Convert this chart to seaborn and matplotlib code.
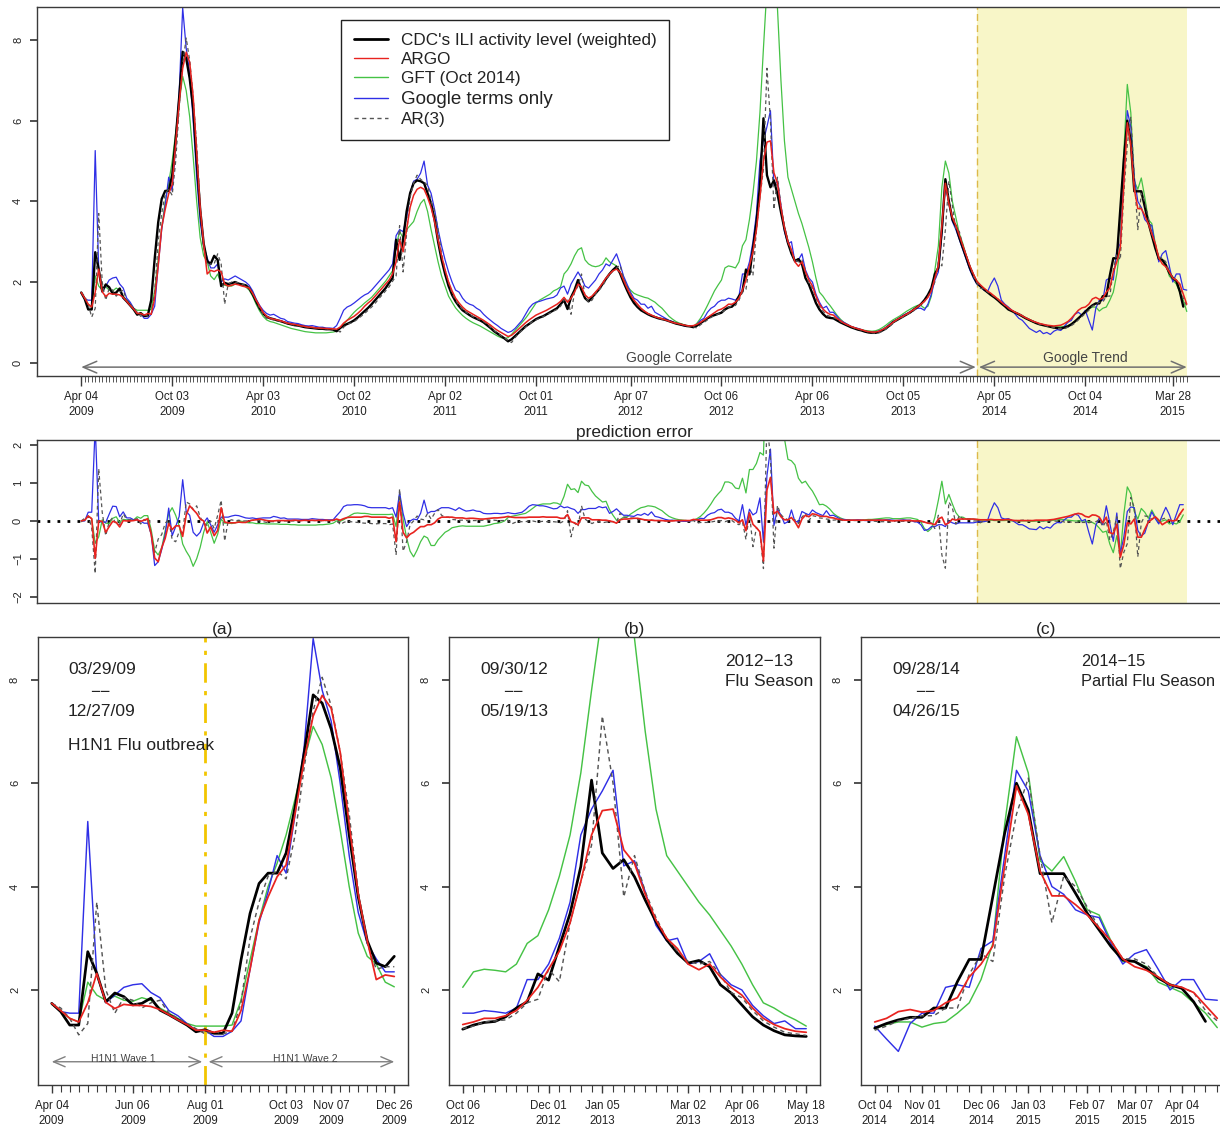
import numpy as np
import pandas as pd
import matplotlib
matplotlib.use("Agg")
import matplotlib.pyplot as plt
import seaborn as sns
from matplotlib.lines import Line2D

# ---------------- data (weekly, starting week ending 2009-04-04) ----------------
start_date = "2009-04-04"

cdc = [1.74,1.58,1.32,1.32,2.74,2.32,1.77,1.94,1.87,1.71,
1.74,1.84,1.61,1.52,1.42,1.32,1.19,1.23,1.16,1.16,
1.55,2.58,3.48,4.06,4.26,4.26,4.65,5.55,6.58,7.71,
7.55,7.05,6.30,5.00,3.80,2.95,2.52,2.45,2.65,2.55,
1.90,1.98,1.95,1.97,2.00,1.96,1.94,1.92,1.85,1.70,
1.52,1.35,1.22,1.14,1.10,1.08,1.05,1.03,1.00,0.97,
0.95,0.93,0.92,0.90,0.88,0.87,0.86,0.85,0.84,0.84,
0.83,0.83,0.82,0.78,0.86,0.92,0.96,1.00,1.05,1.12,
1.20,1.28,1.36,1.45,1.55,1.65,1.75,1.85,1.98,2.10,
3.05,2.55,3.05,3.75,4.20,4.45,4.52,4.50,4.45,4.20,
3.95,3.55,3.00,2.55,2.20,1.90,1.68,1.52,1.40,1.30,
1.24,1.18,1.13,1.09,1.05,1.00,0.93,0.86,0.78,0.72,
0.66,0.60,0.53,0.58,0.66,0.74,0.82,0.90,0.96,1.02,
1.08,1.12,1.15,1.20,1.25,1.30,1.35,1.45,1.55,1.33,
1.62,1.80,2.05,1.80,1.60,1.52,1.62,1.72,1.82,1.95,
2.08,2.20,2.30,2.38,2.22,2.00,1.80,1.62,1.48,1.38,
1.30,1.25,1.20,1.16,1.13,1.10,1.08,1.06,1.03,1.00,
0.97,0.95,0.93,0.91,0.90,0.88,0.92,0.98,1.04,1.10,
1.15,1.18,1.21,1.24,1.32,1.37,1.39,1.48,1.65,1.77,
2.31,2.19,2.84,3.48,4.39,6.06,4.65,4.35,4.52,4.19,
3.74,3.32,2.97,2.71,2.52,2.57,2.45,2.10,1.94,1.71,
1.48,1.32,1.21,1.13,1.11,1.10,1.05,1.00,0.96,0.92,
0.88,0.85,0.82,0.80,0.77,0.75,0.74,0.74,0.76,0.80,
0.85,0.92,1.00,1.05,1.10,1.15,1.20,1.25,1.32,1.38,
1.45,1.55,1.68,1.85,2.20,2.35,3.30,4.55,4.00,3.55,
3.38,3.10,2.85,2.60,2.35,2.15,1.98,1.90,1.82,1.75,
1.68,1.62,1.55,1.47,1.40,1.32,1.28,1.24,1.20,1.15,
1.10,1.06,1.02,0.98,0.95,0.93,0.91,0.89,0.87,0.86,
0.85,0.87,0.90,0.95,1.02,1.10,1.18,1.26,1.35,1.42,
1.47,1.47,1.65,1.65,2.16,2.59,2.59,3.81,5.03,6.00,
5.48,4.25,4.25,4.25,3.87,3.48,3.16,2.84,2.58,2.55,
2.42,2.23,2.10,2.03,1.77,1.39,np.nan]

argo = [1.74,1.60,1.45,1.38,1.75,2.32,1.76,1.64,1.72,1.70,
1.70,1.68,1.62,1.52,1.42,1.33,1.22,1.22,1.18,1.22,
1.20,1.60,2.40,3.35,3.80,4.19,4.42,5.42,6.45,7.30,
7.70,7.45,6.60,5.20,3.85,2.95,2.20,2.29,2.26,2.30,
2.25,1.95,1.90,1.92,1.95,1.93,1.90,1.88,1.85,1.72,
1.55,1.40,1.25,1.15,1.10,1.08,1.06,1.04,1.01,0.98,
0.96,0.95,0.93,0.91,0.90,0.88,0.88,0.86,0.86,0.85,
0.85,0.84,0.84,0.83,0.88,0.98,1.05,1.10,1.15,1.22,
1.30,1.40,1.48,1.55,1.65,1.75,1.85,1.95,2.05,2.20,
2.50,3.05,2.75,3.30,3.85,4.15,4.30,4.35,4.30,4.10,
3.85,3.50,3.05,2.65,2.30,2.00,1.78,1.60,1.48,1.38,
1.30,1.25,1.20,1.15,1.10,1.05,0.99,0.93,0.86,0.80,
0.75,0.70,0.65,0.68,0.75,0.83,0.91,0.99,1.06,1.12,
1.18,1.22,1.26,1.30,1.35,1.40,1.45,1.52,1.62,1.50,
1.60,1.75,1.95,1.88,1.68,1.60,1.65,1.75,1.85,1.97,
2.10,2.20,2.28,2.32,2.25,2.05,1.85,1.68,1.55,1.45,
1.35,1.28,1.22,1.18,1.14,1.11,1.09,1.06,1.03,1.00,
0.98,0.96,0.94,0.92,0.91,0.92,0.95,1.00,1.06,1.12,
1.18,1.24,1.30,1.33,1.38,1.45,1.45,1.50,1.60,1.80,
2.05,2.40,2.75,3.30,4.10,5.00,5.47,5.50,4.71,4.45,
3.85,3.35,3.00,2.80,2.50,2.39,2.50,2.25,2.05,1.90,
1.65,1.45,1.33,1.25,1.20,1.18,1.10,1.04,0.98,0.94,
0.90,0.87,0.84,0.82,0.79,0.77,0.76,0.76,0.78,0.82,
0.87,0.93,1.00,1.06,1.11,1.16,1.21,1.26,1.32,1.38,
1.45,1.52,1.62,1.78,2.10,2.40,3.40,4.45,3.95,3.60,
3.40,3.15,2.90,2.65,2.40,2.20,2.02,1.93,1.85,1.78,
1.72,1.65,1.58,1.50,1.43,1.36,1.30,1.25,1.21,1.16,
1.11,1.07,1.03,1.00,0.97,0.95,0.93,0.92,0.91,0.92,
0.93,0.97,1.02,1.10,1.20,1.30,1.36,1.38,1.45,1.58,
1.62,1.57,1.60,1.75,1.85,2.25,2.50,2.85,4.40,5.95,
5.40,4.30,3.82,3.82,3.65,3.45,3.20,2.95,2.60,2.45,
2.38,2.25,2.10,2.05,1.95,1.70,1.45]

gft = [1.72,1.60,1.45,1.38,2.15,1.90,1.80,1.88,1.80,1.78,
1.85,1.80,1.65,1.55,1.45,1.35,1.30,1.30,1.30,1.30,
1.32,1.80,2.58,3.35,4.00,4.45,5.00,5.70,6.45,7.10,
6.75,6.10,5.10,4.00,3.10,2.65,2.50,2.15,2.06,2.20,
1.95,1.92,1.90,1.90,1.95,1.95,1.93,1.88,1.80,1.65,
1.45,1.28,1.15,1.06,1.02,1.00,0.97,0.94,0.91,0.88,
0.85,0.83,0.81,0.79,0.77,0.76,0.75,0.74,0.74,0.74,
0.74,0.75,0.76,0.78,0.85,0.95,1.05,1.15,1.25,1.33,
1.40,1.48,1.55,1.62,1.72,1.82,1.92,2.02,2.15,2.28,
2.90,3.25,3.10,3.30,3.40,3.50,3.75,3.95,4.05,3.75,
3.30,2.90,2.50,2.15,1.90,1.65,1.50,1.36,1.26,1.17,
1.10,1.04,0.99,0.95,0.91,0.86,0.81,0.76,0.71,0.66,
0.62,0.60,0.62,0.70,0.80,0.90,1.00,1.10,1.22,1.35,
1.48,1.55,1.60,1.65,1.70,1.78,1.82,1.88,2.20,2.30,
2.45,2.65,2.80,2.85,2.55,2.45,2.40,2.38,2.40,2.45,
2.60,2.50,2.45,2.40,2.25,2.10,1.90,1.80,1.72,1.68,
1.65,1.62,1.60,1.55,1.50,1.42,1.35,1.25,1.15,1.08,
1.02,0.98,0.95,0.92,0.90,0.90,0.98,1.10,1.25,1.42,
1.60,1.78,1.92,2.05,2.35,2.40,2.38,2.35,2.50,2.90,
3.05,3.55,4.20,5.00,6.20,7.80,9.30,10.40,10.10,8.80,
7.00,5.50,4.60,4.30,4.00,3.70,3.45,3.15,2.85,2.50,
2.10,1.75,1.65,1.52,1.42,1.30,1.18,1.08,1.00,0.95,
0.90,0.87,0.84,0.82,0.80,0.79,0.78,0.79,0.82,0.87,
0.93,1.00,1.06,1.11,1.16,1.22,1.28,1.33,1.38,1.42,
1.42,1.35,1.40,1.65,2.30,2.90,4.35,5.00,4.70,4.00,
3.60,3.20,2.95,2.65,2.40,2.20,2.02,1.92,1.84,1.77,
1.70,1.63,1.56,1.48,1.41,1.34,1.28,1.24,1.20,1.15,
1.10,1.05,1.01,0.98,0.95,0.93,0.91,0.90,0.89,0.89,
0.89,0.90,0.92,0.96,1.02,1.10,1.18,1.25,1.33,1.38,
1.38,1.28,1.35,1.38,1.55,1.75,2.20,2.90,5.20,6.90,
6.20,4.50,4.30,4.58,4.10,3.55,3.45,2.95,2.55,2.55,
2.45,2.15,2.05,1.95,1.75,1.55,1.27]

google_terms = [1.74,1.58,1.55,1.55,5.26,2.30,1.75,1.90,2.05,2.10,
2.12,1.95,1.85,1.60,1.50,1.35,1.22,1.22,1.10,1.10,
1.20,1.40,2.40,3.30,3.90,4.60,4.26,5.40,6.70,8.80,
7.80,7.20,6.00,4.60,3.50,2.90,2.60,2.35,2.35,2.45,
2.00,2.08,2.05,2.10,2.15,2.10,2.05,2.00,1.92,1.78,
1.58,1.42,1.30,1.22,1.18,1.20,1.15,1.10,1.08,1.02,
1.00,0.98,0.97,0.94,0.92,0.91,0.92,0.90,0.88,0.88,
0.86,0.86,0.85,0.92,1.10,1.30,1.38,1.42,1.48,1.55,
1.62,1.68,1.72,1.80,1.90,2.00,2.10,2.20,2.30,2.45,
3.15,3.30,3.25,3.60,4.20,4.50,4.55,4.70,5.00,4.40,
4.20,3.80,3.30,2.90,2.55,2.25,2.00,1.80,1.75,1.60,
1.50,1.45,1.42,1.35,1.30,1.20,1.12,1.05,0.98,0.92,
0.85,0.80,0.75,0.78,0.85,0.95,1.05,1.20,1.35,1.45,
1.50,1.52,1.55,1.58,1.60,1.62,1.68,1.85,1.90,1.70,
1.95,2.10,2.25,2.10,1.90,1.85,1.95,2.05,2.20,2.30,
2.45,2.40,2.55,2.70,2.45,2.15,1.95,1.75,1.60,1.55,
1.45,1.45,1.35,1.40,1.25,1.20,1.15,1.10,1.05,1.02,
0.98,0.95,0.92,0.90,0.90,0.90,0.95,1.05,1.10,1.25,
1.35,1.40,1.50,1.55,1.55,1.60,1.58,1.55,1.65,2.20,
2.20,2.50,3.00,3.70,5.00,5.50,5.85,6.25,4.40,4.50,
3.90,3.25,2.95,3.00,2.50,2.55,2.70,2.30,2.10,2.00,
1.70,1.50,1.35,1.40,1.25,1.25,1.15,1.05,1.00,0.95,
0.90,0.87,0.85,0.82,0.78,0.76,0.75,0.76,0.79,0.82,
0.88,0.95,1.02,1.06,1.12,1.18,1.22,1.27,1.30,1.35,
1.35,1.30,1.45,1.70,2.05,2.25,3.20,4.40,4.00,3.50,
3.30,3.05,2.80,2.55,2.30,2.10,1.95,1.88,1.80,1.75,
1.95,2.10,1.90,1.55,1.45,1.38,1.30,1.20,1.10,1.05,
0.95,0.85,0.80,0.75,0.80,0.72,0.75,0.70,0.78,0.82,
0.80,0.90,1.00,1.05,1.20,1.25,1.18,1.30,1.05,0.81,
1.35,1.55,1.55,2.05,2.10,2.05,2.80,2.95,4.60,6.25,
5.85,4.60,4.00,3.85,3.55,3.45,3.40,2.90,2.50,2.70,
2.78,2.40,2.00,2.20,2.20,1.82,1.80]

ar3 = [1.74,1.65,1.45,1.13,1.35,3.70,2.00,1.55,1.85,1.80,
1.65,1.75,1.80,1.55,1.45,1.35,1.25,1.15,1.20,1.15,
1.20,1.75,3.00,3.70,4.20,4.30,4.15,5.00,6.30,7.40,
8.05,7.50,6.60,5.40,3.90,2.90,2.40,2.45,2.45,2.70,
2.45,1.45,1.95,2.00,2.00,1.98,1.94,1.92,1.86,1.72,
1.55,1.35,1.20,1.10,1.08,1.06,1.05,1.02,1.00,0.97,
0.95,0.93,0.92,0.91,0.89,0.88,0.87,0.86,0.85,0.84,
0.84,0.83,0.83,0.82,0.76,0.88,0.95,0.98,1.02,1.08,
1.15,1.22,1.30,1.38,1.47,1.58,1.68,1.78,1.88,2.02,
2.15,3.40,2.25,3.20,4.10,4.45,4.65,4.55,4.48,4.40,
4.00,3.75,3.30,2.70,2.30,2.00,1.72,1.55,1.42,1.32,
1.25,1.20,1.14,1.10,1.06,1.02,0.96,0.88,0.80,0.73,
0.67,0.61,0.55,0.50,0.62,0.72,0.80,0.88,0.96,1.02,
1.06,1.10,1.14,1.18,1.23,1.28,1.32,1.40,1.55,1.60,
1.20,1.75,1.90,2.20,1.65,1.50,1.55,1.70,1.80,1.90,
2.05,2.18,2.28,2.35,2.42,2.10,1.90,1.70,1.55,1.42,
1.34,1.27,1.22,1.18,1.14,1.11,1.08,1.06,1.04,1.01,
0.98,0.96,0.94,0.92,0.90,0.89,0.86,0.94,1.00,1.06,
1.12,1.17,1.20,1.25,1.30,1.38,1.40,1.42,1.55,1.75,
1.82,2.40,2.16,3.30,4.10,4.80,7.30,6.00,3.80,4.60,
3.90,3.40,3.00,2.75,2.55,2.50,2.55,2.30,1.95,1.85,
1.60,1.40,1.28,1.18,1.15,1.12,1.08,1.02,0.97,0.94,
0.90,0.86,0.83,0.81,0.79,0.76,0.74,0.73,0.74,0.78,
0.83,0.89,0.97,1.06,1.09,1.14,1.19,1.24,1.29,1.38,
1.43,1.52,1.64,1.80,2.00,2.50,2.40,3.30,4.50,3.90,
3.30,3.25,2.90,2.65,2.40,2.15,1.98,1.85,1.82,1.76,
1.70,1.64,1.58,1.50,1.42,1.35,1.28,1.25,1.21,1.17,
1.12,1.07,1.03,0.99,0.95,0.93,0.91,0.89,0.87,0.85,
0.85,0.84,0.88,0.92,0.98,1.06,1.14,1.22,1.30,1.40,
1.45,1.50,1.50,1.65,1.65,2.30,2.70,2.55,4.20,5.40,
6.10,4.60,3.30,4.20,4.00,3.60,3.20,2.95,2.60,2.60,
2.50,2.25,2.10,2.05,1.95,1.60,1.40]

series_labels = ["CDC's ILI activity level (weighted)", "ARGO", "GFT (Oct 2014)",
                 "Google terms only", "AR(3)"]

top_tick_dates = ["2009-04-04", "2009-10-03", "2010-04-03", "2010-10-02", "2011-04-02",
                  "2011-10-01", "2012-04-07", "2012-10-06", "2013-04-06", "2013-10-05",
                  "2014-04-05", "2014-10-04", "2015-03-28"]
a_tick_dates = ["2009-04-04", "2009-06-06", "2009-08-01", "2009-10-03", "2009-11-07", "2009-12-26"]
b_tick_dates = ["2012-10-06", "2012-12-01", "2013-01-05", "2013-03-02", "2013-04-06", "2013-05-18"]
c_tick_dates = ["2014-10-04", "2014-11-01", "2014-12-06", "2015-01-03", "2015-02-07",
                "2015-03-07", "2015-04-04"]
a_range = ("2009-04-04", "2009-12-26")
b_range = ("2012-10-06", "2013-05-18")
c_range = ("2014-10-04", "2015-04-25")
trend_start = "2014-03-01"
wave_split = "2009-08-01"

for s in (cdc, argo, gft, google_terms, ar3):
    assert len(s) == len(cdc), len(s)

# ---------------- frame ----------------
t0 = pd.Timestamp(start_date)
def wk(d):
    return (pd.Timestamp(d) - t0).days / 7.0

df = pd.DataFrame({"week": np.arange(len(cdc)), "CDC": cdc, "ARGO": argo, "GFT": gft,
                   "GT": google_terms, "AR": ar3})
for k in ["ARGO", "GFT", "GT", "AR"]:
    df["err_" + k] = df[k] - df["CDC"]

# ---------------- style ----------------
sns.set_theme(style="ticks")
plt.rcParams["font.family"] = ["Liberation Sans", "DejaVu Sans"]
plt.rcParams.update({
    "axes.edgecolor": "#3a3a3a", "axes.linewidth": 1.0,
    "xtick.color": "#3a3a3a", "ytick.color": "#3a3a3a",
    "xtick.labelcolor": "#222222", "ytick.labelcolor": "#222222",
    "xtick.labelsize": 8.3, "ytick.labelsize": 8,
})

COL = {"CDC": "black", "ARGO": "#e8231f", "GFT": "#45c245", "GT": "#2f2fe6", "AR": "#555555"}
W, H = 1220, 1126
fig = plt.figure(figsize=(W / 100, H / 100), dpi=100)

def px_axes(l, t, r, b):
    return fig.add_axes([l / W, 1 - b / H, (r - l) / W, (b - t) / H])

ax_top = px_axes(37, 7, 1231, 376)
ax_err = px_axes(37, 440, 1231, 603)
ax_a = px_axes(38, 637, 408, 1085)
ax_b = px_axes(449, 637, 820, 1085)
ax_c = px_axes(861, 637, 1231, 1085)

def line(ax, y, key, lw, data=df):
    kw = dict(data=data, x="week", y=y, ax=ax, color=COL[key], linewidth=lw,
              estimator=None, sort=False, legend=False)
    if key == "AR":
        kw["linestyle"] = (0, (3, 2.5))
    sns.lineplot(**kw)

def draw_levels(ax, scale, data=df):
    line(ax, "GFT", "GFT", 0.9 * scale, data)
    line(ax, "GT", "GT", 0.9 * scale, data)
    line(ax, "CDC", "CDC", 1.7 * scale, data)
    line(ax, "AR", "AR", 0.9 * scale, data)
    line(ax, "ARGO", "ARGO", 1.1 * scale, data)

def fmt(d):
    return pd.Timestamp(d).strftime("%b %d\n%Y")

def xlabels(ax, dates):
    ax.set_xticks([wk(d) for d in dates])
    ax.set_xticklabels([fmt(d) for d in dates], linespacing=1.25)

def yrot(ax, pad):
    ax.tick_params(axis="y", labelrotation=90, length=5, pad=pad)
    for t in ax.get_yticklabels():
        t.set_verticalalignment("center")

shade_col = "#f8f6c8"
gold = "#dcb94a"
n = len(cdc)

# ---------------- top panel ----------------
ax_top.axvspan(wk(trend_start), n - 1, color=shade_col, lw=0, zorder=0)
ax_top.axvline(wk(trend_start), color=gold, lw=1.0, ls=(0, (5, 3)), zorder=1)
draw_levels(ax_top, 1.0)
ax_top.set_xlim(-12.64, n - 1 + 12.64)
ax_top.set_ylim(-0.33, 8.82)
ax_top.set_yticks([0, 2, 4, 6, 8])
xlabels(ax_top, top_tick_dates)
ax_top.set_xticks(np.arange(0, n), minor=True)
ax_top.tick_params(axis="x", which="major", length=7, width=1.0, pad=4)
ax_top.tick_params(axis="x", which="minor", length=4, width=0.6)
yrot(ax_top, 5)
ax_top.set_xlabel("")
ax_top.set_ylabel("")
arrow_kw = dict(arrowstyle="<->,head_length=0.7,head_width=0.3", color="#707070", lw=1.1,
                shrinkA=0, shrinkB=0, mutation_scale=14)
ax_top.annotate("", xy=(0, -0.11), xytext=(wk(trend_start) - 0.3, -0.11), arrowprops=arrow_kw)
ax_top.annotate("", xy=(wk(trend_start) + 0.6, -0.11), xytext=(n - 1, -0.11), arrowprops=arrow_kw)
ax_top.text(171, 0.12, "Google Correlate", ha="center", va="center", fontsize=10, color="#444444")
ax_top.text(287, 0.12, "Google Trend", ha="center", va="center", fontsize=10, color="#444444")

handles = [Line2D([], [], color=COL["CDC"], lw=2.0),
           Line2D([], [], color=COL["ARGO"], lw=1.0),
           Line2D([], [], color=COL["GFT"], lw=1.0),
           Line2D([], [], color=COL["GT"], lw=1.0),
           Line2D([], [], color=COL["AR"], lw=1.0, ls=(0, (3, 2.5)))]
leg = ax_top.legend(handles, series_labels, loc="upper left",
                    bbox_to_anchor=(341 / W, 1 - 20 / H), bbox_transform=fig.transFigure,
                    frameon=True, fancybox=False, edgecolor="#222222", fontsize=12.3,
                    handlelength=2.0, handletextpad=0.75, borderpad=0.75, labelspacing=0.25,
                    borderaxespad=0)
leg.get_frame().set_linewidth(1.0)
leg.get_frame().set_alpha(1)
for t in leg.get_texts():
    t.set_color("#222222")
leg.get_texts()[3].set_fontsize(13.5)

# ---------------- error panel ----------------
ax_err.axvspan(wk(trend_start), n - 1, color=shade_col, lw=0, zorder=0)
ax_err.axvline(wk(trend_start), color=gold, lw=1.0, ls=(0, (5, 3)), zorder=1)
ax_err.axhline(0, color="black", lw=2.0, ls=(0, (1, 2.6)), zorder=1)
line(ax_err, "err_GFT", "GFT", 0.9)
line(ax_err, "err_GT", "GT", 0.9)
line(ax_err, "err_AR", "AR", 0.9)
line(ax_err, "err_ARGO", "ARGO", 1.2)
ax_err.set_xlim(-12.64, n - 1 + 12.64)
ax_err.set_ylim(-2.17, 2.14)
ax_err.set_yticks([-2, -1, 0, 1, 2])
ax_err.set_xticks([])
yrot(ax_err, 5)
ax_err.set_xlabel("")
ax_err.set_ylabel("")
ax_err.set_title("prediction error", fontsize=12.5, pad=1, color="#222222")

# ---------------- zoom panels ----------------
def zoom_panel(ax, rng, tick_dates, title):
    w0, w1 = wk(rng[0]), wk(rng[1])
    sub = df[(df.week >= w0) & (df.week <= w1)]
    draw_levels(ax, 1.15, sub)
    pad = 0.04 * (w1 - w0)
    ax.set_xlim(w0 - pad, w1 + pad)
    ax.set_ylim(0.16, 8.83)
    ax.set_yticks([2, 4, 6, 8])
    xlabels(ax, tick_dates)
    ax.set_xticks(np.arange(w0, w1 + 1), minor=True)
    ax.tick_params(axis="x", which="major", length=6, width=1.0, pad=5)
    ax.tick_params(axis="x", which="minor", length=5, width=0.8)
    yrot(ax, 8)
    ax.set_xlabel("")
    ax.set_ylabel("")
    ax.set_title(title, fontsize=12.5, pad=0, color="#222222")

zoom_panel(ax_a, a_range, a_tick_dates, "(a)")
zoom_panel(ax_b, b_range, b_tick_dates, "(b)")
zoom_panel(ax_c, c_range, c_tick_dates, "(c)")

# panel (a) extras
ax_a.axvline(wk(wave_split), color="#f2c500", lw=2.0, ls=(0, (7, 3, 1.5, 3)), zorder=1)
wave_kw = dict(arrowstyle="<->,head_length=0.7,head_width=0.3", color="#808080", lw=1.0,
               shrinkA=0, shrinkB=0, mutation_scale=12)
ax_a.annotate("", xy=(0, 0.61), xytext=(wk(wave_split) - 0.3, 0.61), arrowprops=wave_kw)
ax_a.annotate("", xy=(wk(wave_split) + 0.4, 0.61), xytext=(wk(a_range[1]), 0.61), arrowprops=wave_kw)
ax_a.text(7.9, 0.66, "H1N1 Wave 1", ha="center", va="center", fontsize=7.5, color="#444444")
ax_a.text(28.1, 0.66, "H1N1 Wave 2", ha="center", va="center", fontsize=7.5, color="#444444")

def annot(ax, left_px, ax_left, ax_w, dash_px, lines, fs=12.5):
    fx = (left_px - ax_left) / ax_w
    dx = (dash_px - ax_left) / ax_w
    for txt, ypx, centered in lines:
        fy = (1085 - ypx) / 448
        if centered:
            ax.text(dx, fy, txt, transform=ax.transAxes, ha="center", va="center",
                    fontsize=fs, color="#222222")
        else:
            ax.text(fx, fy, txt, transform=ax.transAxes, ha="left", va="center",
                    fontsize=fs, color="#222222")

DASH = "\u2212\u2212"
annot(ax_a, 68, 38, 370, 100, [("03/29/09", 670, False), (DASH, 692, True),
                                ("12/27/09", 711, False), ("H1N1 Flu outbreak", 745, False)])
annot(ax_b, 480, 449, 371, 513, [("09/30/12", 670, False), (DASH, 692, True),
                                  ("05/19/13", 711, False)])
annot(ax_b, 725, 449, 371, 725, [("2012\u221213", 661, False), ("Flu Season", 681, False)])
annot(ax_c, 892, 861, 370, 925, [("09/28/14", 670, False), (DASH, 692, True),
                                  ("04/26/15", 711, False)])
annot(ax_c, 1081, 861, 370, 1081, [("2014\u221215", 661, False), ("Partial Flu Season", 681, False)],
      fs=11.8)

for ax in (ax_top, ax_err, ax_a, ax_b, ax_c):
    for sp in ax.spines.values():
        sp.set_visible(True)
        sp.set_color("#3a3a3a")

fig.savefig("out.png", dpi=100)
